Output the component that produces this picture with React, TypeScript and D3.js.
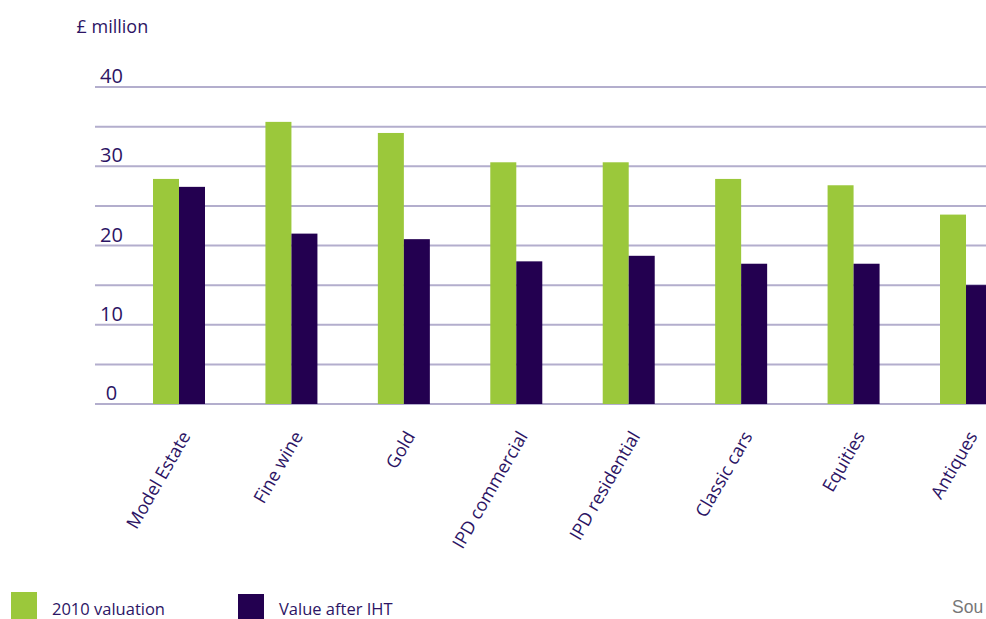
import React from "react";
import * as d3 from "d3";

const categories = ["Model Estate", "Fine wine", "Gold", "IPD commercial", "IPD residential", "Classic cars", "Equities", "Antiques"];
const valuation2010 = [28.4, 35.6, 34.2, 30.5, 30.5, 28.4, 27.6, 23.9];
const valueAfterIHT = [27.4, 21.5, 20.8, 18.0, 18.7, 17.7, 17.7, 15.0];
const seriesNames = ["2010 valuation", "Value after IHT"];
const seriesColors = ["#9bc83b", "#230050"];
const yTicks = [0, 5, 10, 15, 20, 25, 30, 35, 40];
const yLabelTicks = [0, 10, 20, 30, 40];

const W = 986;
const H = 619;
const FONT = "'Open Sans', 'Noto Sans', sans-serif";
const TEXT = "#2c1464";

export default function App() {
  const y = d3.scaleLinear().domain([0, 40]).range([404, 87]);
  const step = 112.43;
  const groupW = 52;
  const x = d3
    .scaleBand<string>()
    .domain(categories)
    .range([153, 153 + 7 * step + groupW])
    .paddingInner(1 - groupW / step)
    .paddingOuter(0);
  const xs = d3.scaleBand<string>().domain(seriesNames).range([0, x.bandwidth()]);
  const series = [valuation2010, valueAfterIHT];

  return (
    <svg width={W} height={H} style={{ position: "absolute", left: 0, top: 0, display: "block" }} fontFamily={FONT}>
      <rect width={W} height={H} fill="#fff" />
      <text x={76.5} y={33} fontSize={18} fill={TEXT}>£ million</text>
      {yTicks.map((t) => (
        <line key={t} x1={95} x2={W} y1={y(t)} y2={y(t)} stroke="#b3aecd" strokeWidth={2} />
      ))}
      {yLabelTicks.map((t) => (
        <text key={t} x={111.5} y={y(t) - 4} fontSize={20} textAnchor="middle" fill={TEXT}>{t}</text>
      ))}
      {categories.map((c, i) => (
        <g key={c} transform={`translate(${x(c)},0)`}>
          {series.map((s, j) => (
            <rect
              key={j}
              x={xs(seriesNames[j])}
              width={xs.bandwidth()}
              y={y(s[i])}
              height={y(0) - y(s[i])}
              fill={seriesColors[j]}
            />
          ))}
        </g>
      ))}
      {categories.map((c) => (
        <text
          key={c}
          transform={`translate(${(x(c) as number) + x.bandwidth() / 2 + 12},436) rotate(-60)`}
          textAnchor="end"
          fontSize={18}
          fill={TEXT}
        >
          {c}
        </text>
      ))}
      <rect x={11} y={592} width={26} height={27} fill={seriesColors[0]} />
      <text x={52} y={615} fontSize={16.5} fill={TEXT}>{seriesNames[0]}</text>
      <rect x={238} y={594} width={26} height={25} fill={seriesColors[1]} />
      <text x={279} y={615} fontSize={16.5} fill={TEXT}>{seriesNames[1]}</text>
      <text x={952} y={613} fontSize={17.5} fill="#777" fontFamily="'Liberation Sans', Arial, sans-serif">Sou</text>
    </svg>
  );
}
